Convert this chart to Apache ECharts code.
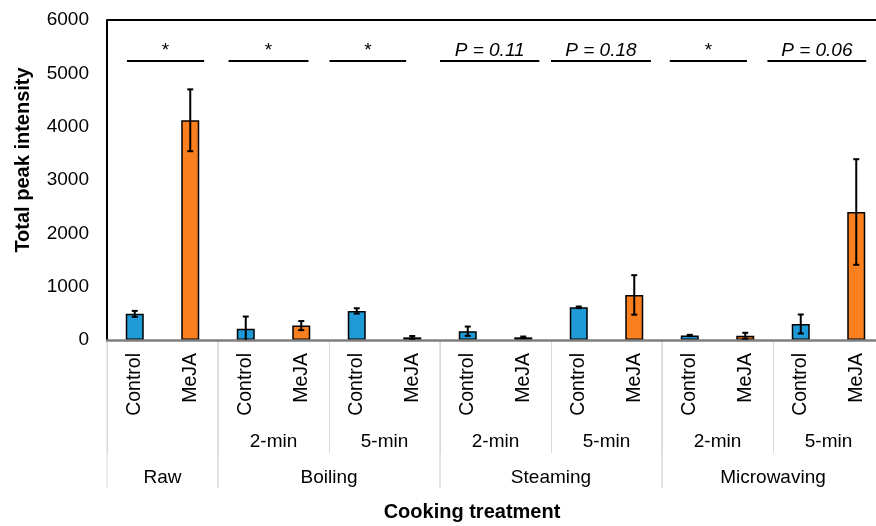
<!DOCTYPE html>
<html>
<head>
<meta charset="utf-8">
<script src="https://cdn.jsdelivr.net/npm/echarts@6/dist/echarts.min.js"></script>
<style>
  html, body { margin: 0; padding: 0; background: #fff; }
  #chart { width: 876px; height: 526px; }
</style>
</head>
<body>
<div id="chart"></div>
<script>
// ---- data ----
const treatments = ['Control', 'MeJA'];
const groups = ['Raw', 'Boiling', 'Steaming', 'Microwaving'];
const groupDurations = [1, 2, 2, 2];          // duration sub-groups per cooking method
const durations = ['', '2-min', '5-min', '2-min', '5-min', '2-min', '5-min'];
const controlMean = [490, 210, 545, 165, 613, 85, 300];
const controlErr  = [56, 230, 50, 87, 15, 12, 178];
const mejaMean    = [4120, 270, 50, 50, 845, 80, 2400];
const mejaErr     = [580, 85, 25, 15, 370, 55, 990];
const sigLabels   = ['*', '*', '*', 'P = 0.11', 'P = 0.18', '*', 'P = 0.06'];
const sigLevel    = 5230;
const yMin = 0, yMax = 6000, yStep = 1000;

// ---- styling / layout ----
const BLUE = '#1E9AD6';
const ORANGE = '#F97F1F';
const FONT = '"Liberation Sans", Arial, Helvetica, sans-serif';
// horizontal extent of each comparison bar, in band widths relative to
// the Control bar centre (start) and the MeJA bar centre (end)
const sigSpan = [[-0.14, 0.25], [-0.31, 0.13], [-0.49, -0.11], [-0.5, 0.29],
                 [-0.5, 0.3], [-0.36, 0.03], [-0.6, 0.18]];

// ---- derived series data ----
const categories = [];
const barData = [];
const errData = [];
durations.forEach((d, i) => {
  categories.push(treatments[0], treatments[1]);
  barData.push({ value: controlMean[i], itemStyle: { color: BLUE } });
  barData.push({ value: mejaMean[i], itemStyle: { color: ORANGE } });
  errData.push([2 * i, controlMean[i] - controlErr[i], controlMean[i] + controlErr[i]]);
  errData.push([2 * i + 1, mejaMean[i] - mejaErr[i], mejaMean[i] + mejaErr[i]]);
});
const sigData = sigLabels.map((s, i) => [2 * i, sigLevel]);
const groupData = [];
let start = 0;
groups.forEach((g, k) => {
  const n = groupDurations[k] * 2;
  groupData.push([start, start + n - 1]);
  start += n;
});

function renderErr(params, api) {
  const x = api.coord([api.value(0), 0])[0];
  const low = Math.max(yMin, api.value(1));
  const yLow = api.coord([api.value(0), low])[1];
  const yHigh = api.coord([api.value(0), api.value(2)])[1];
  const cap = 3;
  const st = { stroke: '#000', lineWidth: 2 };
  const children = [
    { type: 'line', shape: { x1: x, y1: yLow, x2: x, y2: yHigh }, style: st },
    { type: 'line', shape: { x1: x - cap, y1: yHigh, x2: x + cap, y2: yHigh }, style: st }
  ];
  if (api.value(1) > yMin) {
    children.push({ type: 'line', shape: { x1: x - cap, y1: yLow, x2: x + cap, y2: yLow }, style: st });
  }
  return { type: 'group', children };
}

function renderSig(params, api) {
  const i = api.value(0);
  const bw = api.size([1, 0])[0];
  const y = api.coord([i, api.value(1)])[1];
  const span = sigSpan[params.dataIndex];
  const x1 = api.coord([i, 0])[0] + span[0] * bw;
  const x2 = api.coord([i + 1, 0])[0] + span[1] * bw;
  const label = sigLabels[params.dataIndex];
  return {
    type: 'group',
    children: [
      { type: 'line', shape: { x1, y1: y, x2, y2: y }, style: { stroke: '#000', lineWidth: 2 } },
      { type: 'text', style: {
          x: (x1 + x2) / 2, y: y - 1, text: label, align: 'center', verticalAlign: 'bottom',
          fontSize: 19, fontFamily: FONT, fontStyle: label === '*' ? 'normal' : 'italic', fill: '#000'
        } }
    ]
  };
}

function renderGroups(params, api) {
  const first = api.value(0), last = api.value(1);
  const bw = api.size([1, 0])[0];
  const y0 = api.coord([first, 0])[1];
  const xl = api.coord([first, 0])[0] - bw / 2;
  const xr = api.coord([last, 0])[0] + bw / 2;
  const st = { stroke: '#D9D9D9', lineWidth: 1 };
  return {
    type: 'group',
    children: [
      { type: 'line', shape: { x1: xl, y1: y0, x2: xl, y2: y0 + 148 }, style: st },
      { type: 'line', shape: { x1: xr, y1: y0, x2: xr, y2: y0 + 148 }, style: st },
      { type: 'text', style: {
          x: (xl + xr) / 2, y: y0 + 138, text: groups[params.dataIndex], align: 'center',
          verticalAlign: 'middle', fontSize: 19, fontFamily: FONT, fill: '#000'
        } }
    ]
  };
}

const chart = echarts.init(document.getElementById('chart'), null, { renderer: 'canvas' });
chart.setOption({
  animation: false,
  backgroundColor: '#fff',
  grid: { left: 107, top: 20, right: -8, height: 320, containLabel: false, outerBoundsMode: 'none' },
  xAxis: [
    {
      type: 'category',
      data: categories,
      axisLine: { lineStyle: { color: '#7F7F7F', width: 2.5 } },
      axisTick: { show: false },
      axisLabel: { interval: 0, rotate: 90, margin: 13, fontSize: 19.5, fontFamily: FONT, color: '#000' },
      z: 3
    },
    {
      type: 'category',
      data: durations,
      position: 'bottom',
      axisLine: { show: false },
      axisTick: { show: true, interval: 0, length: 113, lineStyle: { color: '#D9D9D9', width: 1 } },
      axisLabel: { interval: 0, margin: 92, fontSize: 19, fontFamily: FONT, color: '#000' },
      splitLine: { show: false }
    }
  ],
  yAxis: {
    type: 'value',
    min: yMin, max: yMax, interval: yStep,
    axisLine: { show: true, lineStyle: { color: '#000', width: 2 } },
    axisTick: { show: false },
    splitLine: { show: false },
    axisLabel: { margin: 18, fontSize: 19, fontFamily: FONT, color: '#000', formatter: v => String(v) }
  },
  series: [
    {
      type: 'bar',
      data: barData,
      barWidth: 18,
      itemStyle: { borderColor: '#000', borderWidth: 1.5 },
      markLine: {
        silent: true, symbol: 'none', label: { show: false },
        lineStyle: { color: '#000', width: 2, type: 'solid' },
        data: [{ yAxis: yMax }]
      }
    },
    { type: 'custom', renderItem: renderErr, data: errData, encode: { x: 0, y: [1, 2] }, z: 4 },
    { type: 'custom', renderItem: renderSig, data: sigData, encode: { x: 0, y: 1 }, z: 4 },
    { type: 'custom', renderItem: renderGroups, data: groupData, encode: { x: [0, 1] }, clip: false, z: 1 }
  ],
  graphic: [
    { type: 'text', x: 23, y: 160, rotation: Math.PI / 2,
      style: { text: 'Total peak intensity', align: 'center', verticalAlign: 'middle',
               fontSize: 20, fontWeight: 'bold', fontFamily: FONT, fill: '#000' } },
    { type: 'text', x: 472, y: 512,
      style: { text: 'Cooking treatment', align: 'center', verticalAlign: 'middle',
               fontSize: 20, fontWeight: 'bold', fontFamily: FONT, fill: '#000' } }
  ]
});
</script>
</body>
</html>
